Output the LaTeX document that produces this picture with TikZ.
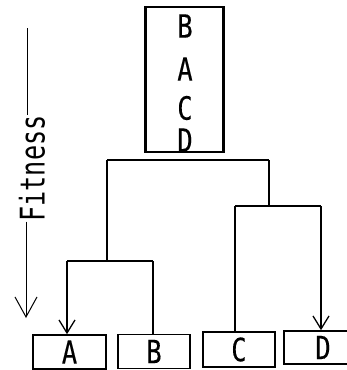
\documentclass[tikz,border=0pt]{standalone}
\usepackage{fontspec}
\usepackage{graphicx}
\usetikzlibrary{arrows.meta}
\newfontfamily\monofont[FakeBold=0.3]{DejaVu Sans Mono}
\newfontfamily\axisfont{DejaVu Sans Mono}
% narrow, tall lettering for all labels
\newcommand{\lbl}[1]{\scalebox{0.8}[1]{\monofont\fontsize{32}{32}\selectfont #1}}
\newcommand{\axislbl}[1]{\scalebox{0.74}[1]{\axisfont\fontsize{34}{34}\selectfont #1}}
\tikzset{
  leaf/.style={draw, line width=1.6pt, inner sep=0pt, minimum height=34pt},
  letter/.style={inner sep=0pt},
  tree/.style={line width=1.7pt},
  pick/.style={tree, -{Straight Barb[length=13pt,width=16pt,line width=1.3pt]}},
  axis/.style={line width=1pt},
}
\begin{document}
\begin{tikzpicture}[x=1pt,y=-1pt]
\useasboundingbox (0,0) rectangle (347,370);
\clip (0,0) rectangle (347,370);

% population box with its members stacked
\node[draw, line width=2.4pt, minimum width=78pt, minimum height=145pt, inner sep=0pt] (pool) at (184.5,79.5) {};
\node[letter] (pb) at (185,26) {\lbl{B}};
\node[letter] (pa) at (185,69) {\lbl{A}};
\node[letter] (pc) at (185,108) {\lbl{C}};
\node[letter] (pd) at (185,140) {\lbl{D}};

% individuals
\node[leaf, minimum width=73pt] (A) at (69.5,352) {\lbl{A}};
\node[leaf, minimum width=72pt] (B) at (154,351.5) {\lbl{B}};
\node[leaf, minimum width=72pt, minimum height=35pt] (C) at (239,349.5) {\lbl{C}};
\node[leaf, minimum width=78pt, minimum height=33pt] (D) at (323,347.5) {\lbl{D}};

% fitness axis
\node[letter, rotate=90] (fit) at (32,168.5) {\axislbl{Fitness}};
\coordinate (ftop) at (27,28);
\coordinate (fbot) at (26,318);
\draw[axis] (ftop) -- (ftop |- fit.east);
\draw[axis, -{Straight Barb[length=20pt,width=22pt,line width=1pt]}] (fbot |- fit.west) -- (fbot);

% selection tree
\coordinate (rl) at (107,160);
\coordinate (rr) at (269,160);
\coordinate (ll) at (67,261);
\coordinate (lr) at (153,261);
\coordinate (cl) at (235,206);
\coordinate (cr) at (321,206);
\draw[tree] (rl) -- (rr);
\draw[tree] (rl) -- (rl |- ll);
\draw[tree] (rr) -- (rr |- cl);
\draw[tree] (ll) -- (lr);
\draw[tree] (cl) -- (cr);
\draw[pick] (ll) -- (ll |- A.north);
\draw[tree] (lr) -- (lr |- B.north);
\draw[tree] (cl) -- (cl |- C.north);
\draw[pick] (cr) -- (cr |- D.north);
\end{tikzpicture}
\end{document}
